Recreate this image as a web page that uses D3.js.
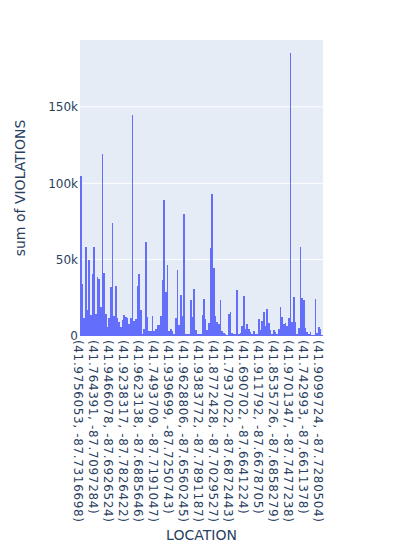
<!DOCTYPE html>
<html>
<head>
<meta charset="utf-8">
<script src="https://d3js.org/d3.v7.min.js"></script>
<style>
  body { margin: 0; background: #fff; }
  text { font-family: "DejaVu Sans", verdana, arial, sans-serif; fill: #2a3f5f; }
</style>
</head>
<body>
<svg class="chart"></svg>
<script>
const width = 393;
const height = 555;
const margin = {
    top: 40,
    left: 80,
    bottom: 219,
    right: 70
};

// sum of VIOLATIONS per location, left to right
const violations = [
    105000, 34000, 12000, 58500, 17000, 50000, 14000, 40500, 58000, 14500,
    38700, 37000, 19000, 119000, 41000, 14500, 6000, 12000, 32000, 74000,
    13000, 33000, 12000, 9000, 6000, 10500, 13600, 12500, 12000, 8000,
    12000, 144500, 10000, 11000, 32500, 40500, 17000, 1000, 4400, 61600,
    12500, 3000, 3000, 13000, 3000, 4400, 7000, 7000, 13000, 36700,
    89000, 29000, 46400, 3000, 4400, 3000, 1000, 12000, 43000, 7000,
    26600, 13400, 79600, 1000, 1000, 1000,
    23500, 12500, 31000, 4000, 1000, 1000, 1000, 13600, 24000, 11000,
    4000, 8600, 57600, 93000, 44400, 13400, 9000, 8000, 23500, 3000,
    2000, 1000, 700, 14700, 15400, 2000, 1000, 1000, 30000, 1000,
    2000, 6400, 26000, 4800, 7700, 4800, 2600, 1000, 3300, 1000,
    1000, 11000, 4000, 9700, 16000, 6600, 18000, 8600, 3700, 1000,
    3700, 2400, 1000, 4800, 19000, 12500, 7700, 8800, 6600, 11900,
    185500, 9000, 25700, 9000, 1000, 5300, 58500, 24900, 23500, 5300,
    2400, 1000, 2400, 700, 700, 24000, 2000, 5700, 4600, 700
];

// the only location labels the axis shows (every 9th bar)
const tickLabels = [
    "(41.9756053, -87.7316698)",
    "(41.764391, -87.7097284)",
    "(41.9466078, -87.6926524)",
    "(41.9238317, -87.7826422)",
    "(41.9623138, -87.6885646)",
    "(41.7493709, -87.7191047)",
    "(41.939699, -87.7250743)",
    "(41.9628806, -87.6560245)",
    "(41.9383772, -87.7891187)",
    "(41.8772428, -87.7029527)",
    "(41.7937022, -87.6872443)",
    "(41.690702, -87.6641224)",
    "(41.911792, -87.6678705)",
    "(41.8535726, -87.6858279)",
    "(41.9701347, -87.7477238)",
    "(41.742993, -87.6611378)",
    "(41.9099724, -87.7280504)"
];
const tickStep = 9;
const yTicks = [0, 50000, 100000, 150000];

const plotW = width - margin.left - margin.right;
const plotH = height - margin.top - margin.bottom;

let svg = d3.select("svg.chart")
    .attr("width", width)
    .attr("height", height);

let g = svg.append("g")
    .attr("transform", `translate(${margin.left}, ${margin.top})`);

let x = d3.scaleBand()
    .domain(d3.range(violations.length))
    .range([0, plotW])
    .padding(0);

let y = d3.scaleLinear()
    .domain([0, 193800])
    .range([plotH, 0]);

// background
g.append("rect")
    .attr("width", plotW)
    .attr("height", plotH)
    .attr("fill", "#E5ECF6");

// grid
g.selectAll(".grid")
    .data(yTicks.filter(d => d > 0))
    .enter().append("line")
    .attr("x1", 0)
    .attr("x2", plotW)
    .attr("y1", d => y(d))
    .attr("y2", d => y(d))
    .attr("stroke", "#fff")
    .attr("stroke-width", 1);

// bars
g.selectAll(".bar")
    .data(violations)
    .enter().append("rect")
    .attr("class", "bar")
    .attr("x", (d, i) => x(i))
    .attr("width", x.bandwidth())
    .attr("y", d => y(d))
    .attr("height", d => plotH - y(d))
    .attr("fill", "#636EFA")
    .attr("shape-rendering", "crispEdges");

// y axis
let yAxis = g.append("g")
    .call(d3.axisLeft(y).tickValues(yTicks).tickFormat(d3.format("~s")).tickSize(0).tickPadding(2));
yAxis.select(".domain").remove();
yAxis.selectAll("text")
    .style("font-size", "12px")
    .attr("fill", "#2a3f5f");

// x axis
let xAxis = g.append("g")
    .attr("transform", `translate(0, ${plotH})`)
    .call(d3.axisBottom(x)
        .tickValues(tickLabels.map((d, i) => i * tickStep))
        .tickFormat(i => tickLabels[i / tickStep])
        .tickSize(0));
xAxis.select(".domain").remove();
xAxis.selectAll("text")
    .style("font-size", "12px")
    .style("letter-spacing", "0.65px")
    .attr("fill", "#2a3f5f")
    .attr("transform", "rotate(90)")
    .attr("text-anchor", "start")
    .attr("x", 4)
    .attr("y", 2.5)
    .attr("dy", "0.35em");

// titles
svg.append("text")
    .attr("transform", `translate(20, ${margin.top + plotH / 2}) rotate(-90)`)
    .attr("text-anchor", "middle")
    .attr("dy", "0.35em")
    .style("font-size", "14px")
    .text("sum of VIOLATIONS");

svg.append("text")
    .attr("x", margin.left + plotW / 2)
    .attr("y", 540)
    .attr("text-anchor", "middle")
    .style("font-size", "14px")
    .text("LOCATION");
</script>
</body>
</html>
